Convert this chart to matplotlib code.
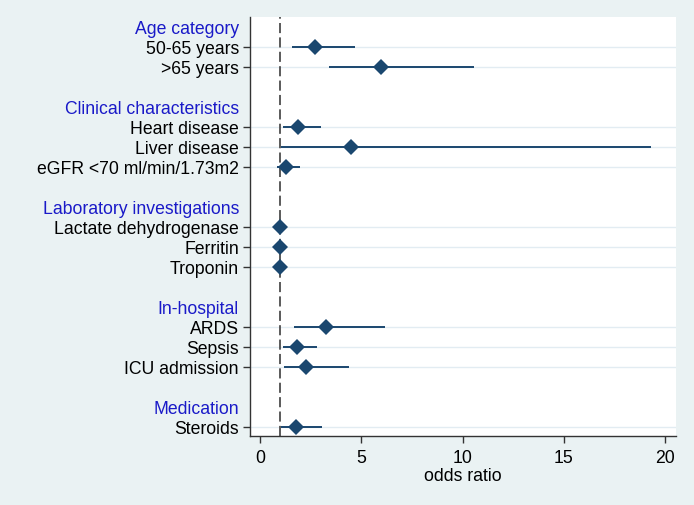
import matplotlib
matplotlib.use("Agg")
import matplotlib.pyplot as plt
import numpy as np

plt.rcParams['font.family'] = ['Liberation Sans', 'DejaVu Sans']

groups = ["Age category", "Clinical characteristics", "Laboratory investigations",
          "In-hospital", "Medication"]
items = [
    ["50-65 years", ">65 years"],
    ["Heart disease", "Liver disease", "eGFR <70 ml/min/1.73m2"],
    ["Lactate dehydrogenase", "Ferritin", "Troponin"],
    ["ARDS", "Sepsis", "ICU admission"],
    ["Steroids"],
]
odds = [
    [2.72, 5.96],
    [1.85, 4.50, 1.27],
    [1.00, 1.00, 1.00],
    [3.23, 1.80, 2.26],
    [1.76],
]
lower = [
    [1.58, 3.38],
    [1.14, 1.01, 0.84],
    [0.99, 0.99, 0.99],
    [1.68, 1.14, 1.17],
    [1.01],
]
upper = [
    [4.68, 10.54],
    [3.03, 19.30, 1.95],
    [1.01, 1.01, 1.01],
    [6.19, 2.80, 4.40],
    [3.08],
]
xticks = [0, 5, 10, 15, 20]
ref_value = 1

bg = '#EAF2F3'
navy = '#1A476F'
hdr = '#1A1AC8'
fs = 12.7

fig = plt.figure(figsize=(6.94, 5.05), dpi=100, facecolor=bg)
ax = fig.add_axes([250/694, 1-436/505, (676-250)/694, (436-17)/505])
ax.set_facecolor('white')

pos = 1
ypos, ylabels, is_header = [], [], []
data_y, data_o, data_l, data_u = [], [], [], []
for g, its, o, l, u in zip(groups, items, odds, lower, upper):
    ypos.append(pos); ylabels.append(g); is_header.append(True)
    pos += 1
    for name, oo, ll, uu in zip(its, o, l, u):
        ypos.append(pos); ylabels.append(name); is_header.append(False)
        data_y.append(pos); data_o.append(oo); data_l.append(ll); data_u.append(uu)
        pos += 1
    pos += 1

for y in data_y:
    ax.axhline(y, color='#E2ECF2', lw=1.0, zorder=0)

ax.axvline(ref_value, color='#5A5A5A', lw=1.4, ls=(0, (5.2, 2.2)), zorder=1)

ax.hlines(data_y, data_l, data_u, color=navy, lw=1.4, zorder=2)
ax.plot(data_o, data_y, 'D', color=navy, ms=8, zorder=3, markeredgewidth=0)

ax.set_ylim(21.43, 0.485)
ax.set_xlim(-0.5, 20.54)
ax.set_xticks(xticks)
ax.set_xticklabels([str(t) for t in xticks])
ax.set_yticks(ypos)
ax.set_yticklabels(ylabels)
ax.tick_params(axis='y', length=5, width=1, color='#333333', pad=3, labelsize=fs)
ax.tick_params(axis='x', length=5, width=1, color='#333333', pad=5, labelsize=fs)
for lab, h, tk in zip(ax.get_yticklabels(), is_header, ax.yaxis.get_major_ticks()):
    if h:
        lab.set_color(hdr)
        tk.tick1line.set_visible(False)
    else:
        lab.set_color('black')

ax.set_xlabel('odds ratio', fontsize=fs, labelpad=1)
for s in ['top', 'right']:
    ax.spines[s].set_visible(False)
for s in ['left', 'bottom']:
    ax.spines[s].set_color('#333333')
    ax.spines[s].set_linewidth(1.0)

fig.savefig('out.png', dpi=100, facecolor=bg)
